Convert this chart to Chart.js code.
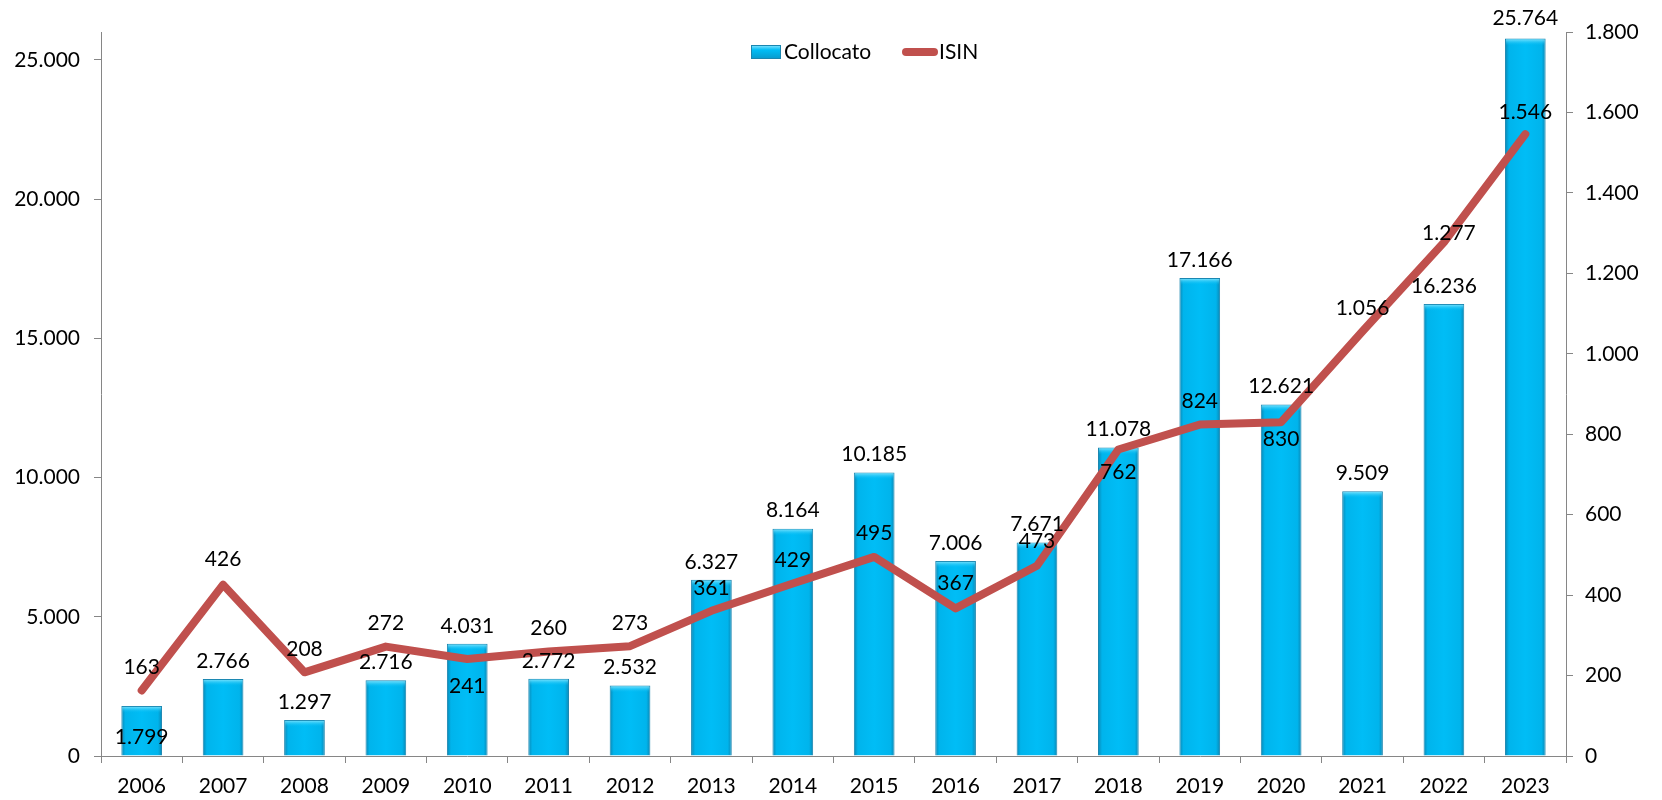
<!DOCTYPE html>
<html>
<head>
<meta charset="utf-8">
<script src="https://cdn.jsdelivr.net/npm/chart.js@4.4.1/dist/chart.umd.min.js"></script>
<style>
  html, body { margin: 0; padding: 0; background: #fff; }
  #wrap { position: relative; width: 1662px; height: 800px; }
</style>
</head>
<body>
<div id="wrap"><canvas id="chart" width="1662" height="800"></canvas></div>
<script>
const years = ["2006", "2007", "2008", "2009", "2010", "2011", "2012", "2013", "2014",
    "2015", "2016", "2017", "2018", "2019", "2020", "2021", "2022", "2023"];
const collocato = [1799, 2766, 1297, 2716, 4031, 2772, 2532, 6327, 8164,
    10185, 7006, 7671, 11078, 17166, 12621, 9509, 16236, 25764];
const isin = [163, 426, 208, 272, 241, 260, 273, 361, 429,
    495, 367, 473, 762, 824, 830, 1056, 1277, 1546];
const leftTicks = [0, 5000, 10000, 15000, 20000, 25000];
const rightTicks = [0, 200, 400, 600, 800, 1000, 1200, 1400, 1600, 1800];

// label nudges (px) relative to bar top / line point
const barLabelDy = [31, -18, -18, -18, -18, -18, -18, -18, -18,
    -18, -18, -18, -18, -18, -18, -18, -18, -20];
const isinLabelDy = [-23, -25, -23, -23, 27, -23, -23, -23, -23,
    -24, -25, -25, 23, -23, 17, -23, -9, -22];
const isinLabelDx = [0, 0, 0, 0, 0, 0, 0, 0, 0,
    0, 0, 0, 0, 0, 0, 0, 5, 0];

const FONT = "Lato, 'Open Sans', sans-serif";
const FSIZE = 21;
const fmt = v => String(Math.round(v)).replace(/\B(?=(\d{3})+(?!\d))/g, ".");
const axisGrey = "#868686";

function barFill(context) {
    const chart = context.chart;
    const xs = chart.scales.x;
    if (!xs || context.dataIndex === undefined) return "#00b9f2";
    const cx = xs.getPixelForValue(context.dataIndex);
    const w = (xs.width / years.length) * 0.5;
    if (!isFinite(cx) || !isFinite(w) || w <= 0) return "#00b9f2";
    const g = chart.ctx.createLinearGradient(cx - w / 2, 0, cx + w / 2, 0);
    g.addColorStop(0, "#0b86b3");
    g.addColorStop(0.1, "#00b4ec");
    g.addColorStop(0.5, "#00bdf6");
    g.addColorStop(0.9, "#00b4ec");
    g.addColorStop(1, "#0b86b3");
    return g;
}

// light bevel on top of each bar
const bevelPlugin = {
    id: "barBevel",
    afterDatasetDraw(chart, args) {
        if (args.index !== 0) return;
        const ctx = chart.ctx;
        ctx.save();
        args.meta.data.forEach(el => {
            const left = el.x - el.width / 2, top = el.y;
            const g = ctx.createLinearGradient(0, top, 0, top + 7);
            g.addColorStop(0, "rgba(150,235,255,0.95)");
            g.addColorStop(1, "rgba(0,189,246,0)");
            ctx.fillStyle = g;
            ctx.fillRect(left + 1, top + 1, el.width - 2, 7);
        });
        ctx.restore();
    }
};

const labelsPlugin = {
    id: "valueLabels",
    afterDatasetsDraw(chart) {
        const ctx = chart.ctx;
        ctx.save();
        ctx.font = FSIZE + "px " + FONT;
        ctx.fillStyle = "#000";
        ctx.textAlign = "center";
        ctx.textBaseline = "middle";
        const bars = chart.getDatasetMeta(0).data;
        bars.forEach((el, i) => {
            ctx.fillText(fmt(collocato[i]), el.x, el.y + barLabelDy[i]);
        });
        const pts = chart.getDatasetMeta(1).data;
        pts.forEach((el, i) => {
            ctx.fillText(fmt(isin[i]), el.x + isinLabelDx[i], el.y + isinLabelDy[i]);
        });
        ctx.restore();
    }
};

const legendPlugin = {
    id: "topLegend",
    afterDraw(chart) {
        const ctx = chart.ctx;
        const ds = chart.data.datasets;
        ctx.save();
        ctx.font = FSIZE + "px " + FONT;
        ctx.textBaseline = "middle";
        const y = 52;
        // bar swatch
        const g = ctx.createLinearGradient(0, y - 7, 0, y + 7);
        g.addColorStop(0, "#8fe6ff");
        g.addColorStop(0.35, "#00bdf6");
        g.addColorStop(1, "#0899cc");
        ctx.fillStyle = g;
        ctx.fillRect(751, y - 7, 30, 14);
        ctx.strokeStyle = "#1a86b0";
        ctx.lineWidth = 1;
        ctx.strokeRect(751.5, y - 6.5, 29, 13);
        ctx.fillStyle = "#000";
        ctx.textAlign = "left";
        ctx.fillText(ds[0].label, 784, y);
        // line swatch
        ctx.strokeStyle = "#c0504d";
        ctx.lineWidth = 8;
        ctx.lineCap = "round";
        ctx.beginPath();
        ctx.moveTo(906, y);
        ctx.lineTo(934, y);
        ctx.stroke();
        ctx.fillText(ds[1].label, 939, y);
        ctx.restore();
    }
};

new Chart(document.getElementById("chart"), {
    type: "bar",
    data: {
        labels: years,
        datasets: [{
            label: "Collocato",
            data: collocato,
            yAxisID: "y",
            backgroundColor: barFill,
            borderColor: "#1a86b0",
            borderWidth: 1,
            barPercentage: 0.5,
            categoryPercentage: 1.0,
            order: 2
        }, {
            type: "line",
            label: "ISIN",
            data: isin,
            yAxisID: "y1",
            borderColor: "#c0504d",
            backgroundColor: "#c0504d",
            borderWidth: 8,
            borderCapStyle: "round",
            borderJoinStyle: "round",
            pointRadius: 0,
            tension: 0,
            fill: false,
            order: 1
        }]
    },
    options: {
        responsive: false,
        animation: false,
        devicePixelRatio: 1,
        layout: { padding: { top: 32, left: 0, right: 0, bottom: 0 } },
        plugins: {
            legend: { display: false },
            tooltip: { enabled: false }
        },
        scales: {
            x: {
                afterFit(scale) { scale.height = 44; },
                grid: { offset: true, drawOnChartArea: false, drawTicks: true, tickLength: 7, color: axisGrey },
                border: { display: true, color: axisGrey, width: 1 },
                ticks: { color: "#000", font: { family: FONT, size: FSIZE }, padding: 11, maxRotation: 0 }
            },
            y: {
                position: "left",
                min: 0,
                max: 26000,
                afterFit(scale) { scale.width = 101; },
                afterBuildTicks(scale) { scale.ticks = leftTicks.map(v => ({ value: v })); },
                grid: { drawOnChartArea: false, drawTicks: true, tickLength: 7, color: axisGrey },
                border: { display: true, color: axisGrey, width: 1 },
                ticks: { color: "#000", font: { family: FONT, size: FSIZE }, padding: 14, callback: v => fmt(v) }
            },
            y1: {
                position: "right",
                min: 0,
                max: 1800,
                afterFit(scale) { scale.width = 96; },
                afterBuildTicks(scale) { scale.ticks = rightTicks.map(v => ({ value: v })); },
                grid: { drawOnChartArea: false, drawTicks: true, tickLength: 7, color: axisGrey },
                border: { display: true, color: axisGrey, width: 1 },
                ticks: { color: "#000", font: { family: FONT, size: FSIZE }, padding: 12, callback: v => fmt(v) }
            }
        }
    },
    plugins: [bevelPlugin, labelsPlugin, legendPlugin]
});
</script>
</body>
</html>
